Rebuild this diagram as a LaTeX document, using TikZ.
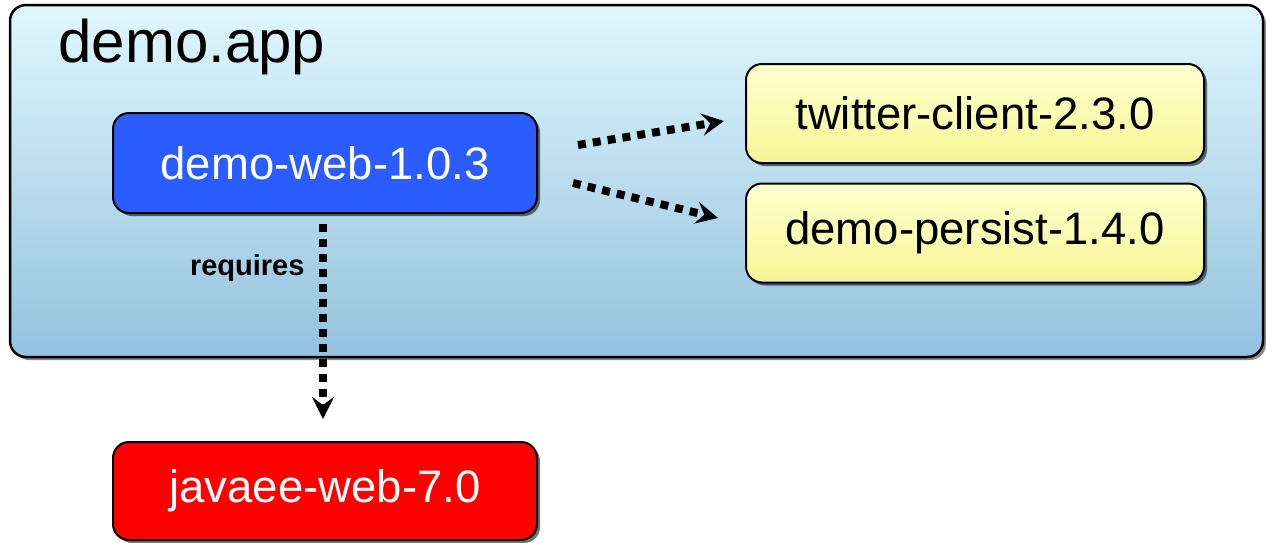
\documentclass[tikz,border=0pt]{standalone}
\usepackage{fontspec}
\setmainfont{Liberation Sans}
\usetikzlibrary{arrows.meta,shadows,calc}
\definecolor{apptop}{HTML}{E0F7FD}
\definecolor{appbot}{HTML}{93C2DF}
\definecolor{webblue}{HTML}{2B5CFF}
\definecolor{yeltop}{HTML}{FFFFCF}
\definecolor{yelbot}{HTML}{F6F696}
\definecolor{jred}{HTML}{FF0000}
\tikzset{
  pkg/.style={draw=black, line width=2pt, rounded corners=16pt, minimum width=424pt,
    minimum height=100pt, inner sep=0pt, font=\fontsize{45.5}{54}\selectfont,
    drop shadow={shadow xshift=3pt, shadow yshift=-3pt, opacity=0.55, fill=black}},
  yelbox/.style={pkg, minimum width=458pt, minimum height=99pt, top color=yeltop, bottom color=yelbot, text=black},
  dep/.style={line width=8pt, dash pattern=on 8pt off 7pt, -{Stealth[length=22pt,width=22pt,inset=8pt]}},
}
\begin{document}
\begin{tikzpicture}[x=1pt,y=-1pt]
\useasboundingbox (0,0) rectangle (1266,542);
\node[draw=black, line width=2.5pt, rounded corners=16pt, minimum width=1253pt, minimum height=352pt,
  inner sep=0pt, top color=apptop, bottom color=appbot,
  drop shadow={shadow xshift=3pt, shadow yshift=-3pt, opacity=0.45, fill=black}] (app) at (636.5,181) {};
\node[anchor=base west, font=\fontsize{60}{68}\selectfont] (title) at (55,62) {demo.app};
\node[pkg, fill=webblue, text=white] (web) at (325,163) {demo-web-1.0.3};
\node[yelbox] (tw) at (975,113.5) {twitter-client-2.3.0};
\node[yelbox] (ps) at (975,233) {demo-persist-1.4.0};
\node[pkg, fill=jred, text=white, minimum height=98pt] (jee) at (325,491) {javaee-web-7.0};
\node[anchor=base east, font=\fontsize{29}{34}\selectfont\bfseries] (req) at (308,275) {requires};
\draw[dep] ([xshift=40pt,yshift=18pt]web.east) -- ([xshift=-21pt,yshift=-7.5pt]tw.west);
\draw[dep] ([xshift=35pt,yshift=-20pt]web.east) -- ([xshift=-27pt,yshift=15pt]ps.west);
\draw[dep] ([xshift=-2pt,yshift=-10pt]web.south) -- ([xshift=-2pt,yshift=22pt]jee.north);
\end{tikzpicture}
\end{document}
